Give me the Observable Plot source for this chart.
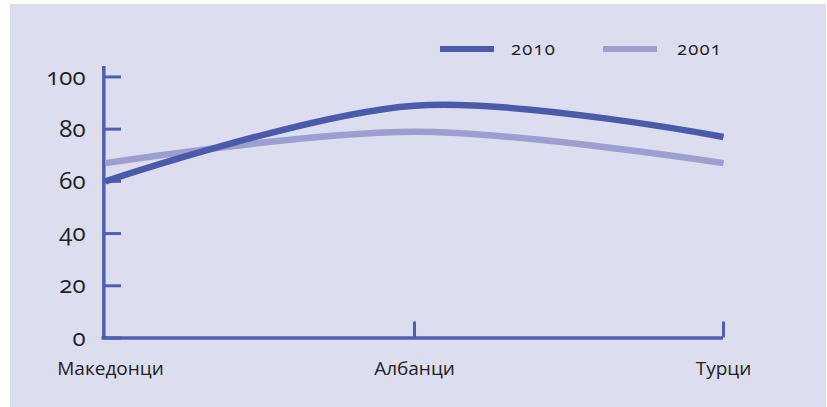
<!DOCTYPE html>
<html><head><meta charset="utf-8">
<script src="https://cdn.jsdelivr.net/npm/d3@7"></script>
<script src="https://cdn.jsdelivr.net/npm/@observablehq/plot@0.6"></script>
<style>
body{margin:0;background:#fff;}
#wrap{position:relative;width:827px;height:407px;overflow:hidden;font-family:"Open Sans",sans-serif;font-variant-numeric:oldstyle-nums;}
#bg{position:absolute;left:10px;top:4px;width:816px;height:403px;background:#dcdef0;}
#chart{position:absolute;left:0;top:0;}
.sw{position:absolute;height:6px;width:54px;}
.lt{position:absolute;font-size:18.5px;color:#222;line-height:20px;letter-spacing:1.2px;}
</style></head><body>
<div id="wrap"><div id="bg"></div><div id="chart"></div>
<div class="sw" style="left:440px;top:46px;background:#4c5aaa"></div><div class="lt" style="left:511px;top:38px">2010</div>
<div class="sw" style="left:603px;top:46px;background:#9d9fd1"></div><div class="lt" style="left:677px;top:38px">2001</div>
</div>
<script>
const categories = ["Македонци", "Албанци", "Турци"];
const values2010 = [60, 89, 77];
const values2001 = [67, 79, 67];
const series = ["2001", "2010"];
const yTicks = [0, 20, 40, 60, 80, 100];
const seriesColors = ["#9d9fd1", "#4c5aaa"];
const axisColor = "#4f5fb0";

const data = [
  ...categories.map((c, i) => ({cat: c, v: values2001[i], s: "2001"})),
  ...categories.map((c, i) => ({cat: c, v: values2010[i], s: "2010"}))
];

const mL = 105, mR = 104, mT = 66, mB = 69.5, W = 827, H = 407;
const frameW = W - mL - mR, frameH = H - mT - mB;

const chart = Plot.plot({
  width: W, height: H,
  marginLeft: mL, marginRight: mR, marginTop: mT, marginBottom: mB,
  style: {background: "transparent", fontFamily: "Open Sans, sans-serif", fontVariantNumeric: "oldstyle-nums", color: "#222"},
  x: {type: "point", domain: categories, padding: 0, axis: null},
  y: {domain: [0, 104], axis: null},
  color: {domain: series, range: seriesColors},
  marks: [
    Plot.ruleX([categories[0]], {x: d => d, stroke: axisColor, strokeWidth: 3.5, dx: -1.7}),
    Plot.ruleY([0], {stroke: axisColor, strokeWidth: 3.5, insetLeft: -3.5}),
    Plot.ruleY(yTicks, {y: d => d, stroke: axisColor, strokeWidth: 3, insetLeft: -2, insetRight: frameW - 16}),
    Plot.ruleX([categories[1], categories[2]], {x: d => d, stroke: axisColor, strokeWidth: 3, insetTop: frameH - 16}),
    Plot.line(data, {x: "cat", y: "v", z: "s", stroke: "s", strokeWidth: 6.5, curve: "catmull-rom", strokeLinecap: "butt"}),
    Plot.text(yTicks, {y: d => d, text: d => String(d), frameAnchor: "left", dx: -20, textAnchor: "end", lineAnchor: "middle", fontSize: 24, letterSpacing: "2px", fill: "#222"}),
    Plot.text([categories[0]], {x: d => d, y: () => 0, text: d => d, lineAnchor: "middle", dy: 31, dx: 5, fontSize: 19, fill: "#222"}),
    Plot.text(categories.slice(1), {x: d => d, y: () => 0, text: d => d, lineAnchor: "middle", dy: 31, fontSize: 19, fill: "#222"})
  ]
});
document.getElementById("chart").appendChild(chart);
</script>
</body></html>
